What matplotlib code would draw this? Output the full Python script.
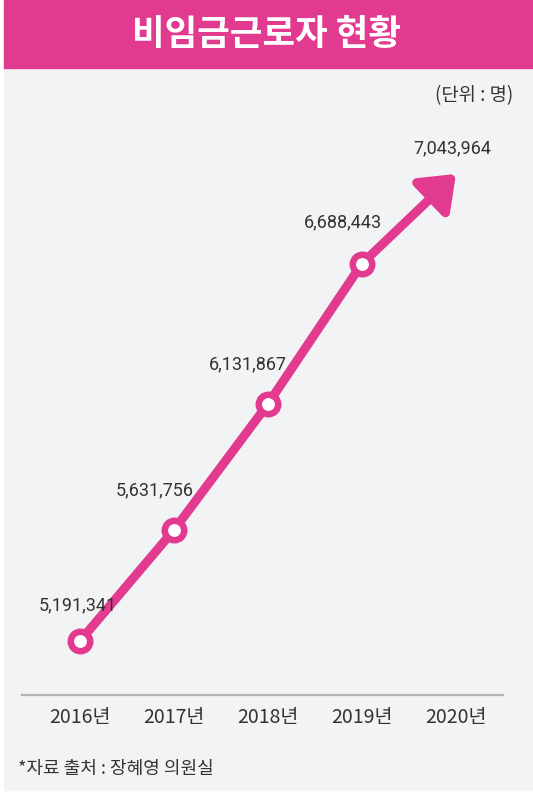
import matplotlib.pyplot as plt
from matplotlib.patches import Rectangle

plt.rcParams['font.family'] = ['Noto Sans CJK KR', 'DejaVu Sans']

years = ['2016년', '2017년', '2018년', '2019년', '2020년']
workers = [5191341, 5631756, 6131867, 6688443, 7043964]
labels = ['5,191,341', '5,631,756', '6,131,867', '6,688,443', '7,043,964']
label_offsets = [(-2, 36), (-19, 40), (-20, 40), (-19, 41), (-4, 26)]

pink = '#e23a8f'
bg = '#f2f3f5'

fig = plt.figure(figsize=(5.33, 7.97), dpi=100)
fig.patch.set_facecolor('white')
ax = fig.add_axes([0, 0, 1, 1])
ax.set_xlim(-0.851, 4.819)
ax.set_ylim(4572539, 7733983)
ax.axis('off')

# backgrounds
ax.add_patch(Rectangle((4 / 533, 7 / 797), 1, 1, transform=ax.transAxes, color=bg, zorder=0))
ax.add_patch(Rectangle((4 / 533, 1 - 68 / 797), 1, 68 / 797, transform=ax.transAxes, color=pink, zorder=1))
fig.text(0.5, 1 - 34 / 797, '비임금근로자 현황', color='white', fontsize=25.5, fontweight='bold',
         ha='center', va='center')

x = list(range(len(years)))
# line up to 2019, arrow to 2020
ax.plot(x[:4], workers[:4], color=pink, lw=6.5, solid_capstyle='round', zorder=3)
ax.annotate('', xy=(x[4], workers[4]), xytext=(x[3], workers[3]),
            arrowprops=dict(arrowstyle='-|>,head_length=0.65,head_width=0.5', color=pink, lw=6.5,
                            mutation_scale=30, shrinkA=0, shrinkB=0), zorder=3)
ax.plot(x[:4], workers[:4], 'o', ms=14, mfc='white', mec=pink, mew=4.7, zorder=4)

for xi, v, lab, off in zip(x, workers, labels, label_offsets):
    ax.annotate(lab, xy=(xi, v), xytext=off, textcoords='offset pixels', ha='center', va='center',
                fontsize=13, color='#333333', family=['Roboto', 'DejaVu Sans'], zorder=5)

# baseline and year labels
ax.plot([22 / 533, 503 / 533], [1 - 695 / 797] * 2, transform=ax.transAxes, color='#b5b5b5', lw=1.6)
for xi, yr in zip(x, years):
    ax.annotate(yr, xy=(xi, 0), xycoords=('data', 'axes fraction'), xytext=(0, 797 - 717),
                textcoords='offset pixels', ha='center', va='center', fontsize=14, color='#333333')

fig.text(513 / 533, 1 - 96 / 797, '(단위 : 명)', ha='right', va='center', fontsize=13.5, color='#333333')
fig.text(18 / 533, 1 - 769 / 797, '*자료 출처 : 장혜영 의원실', ha='left', va='center', fontsize=13,
         color='#333333')

fig.savefig('out.png', dpi=100, facecolor=fig.get_facecolor())
